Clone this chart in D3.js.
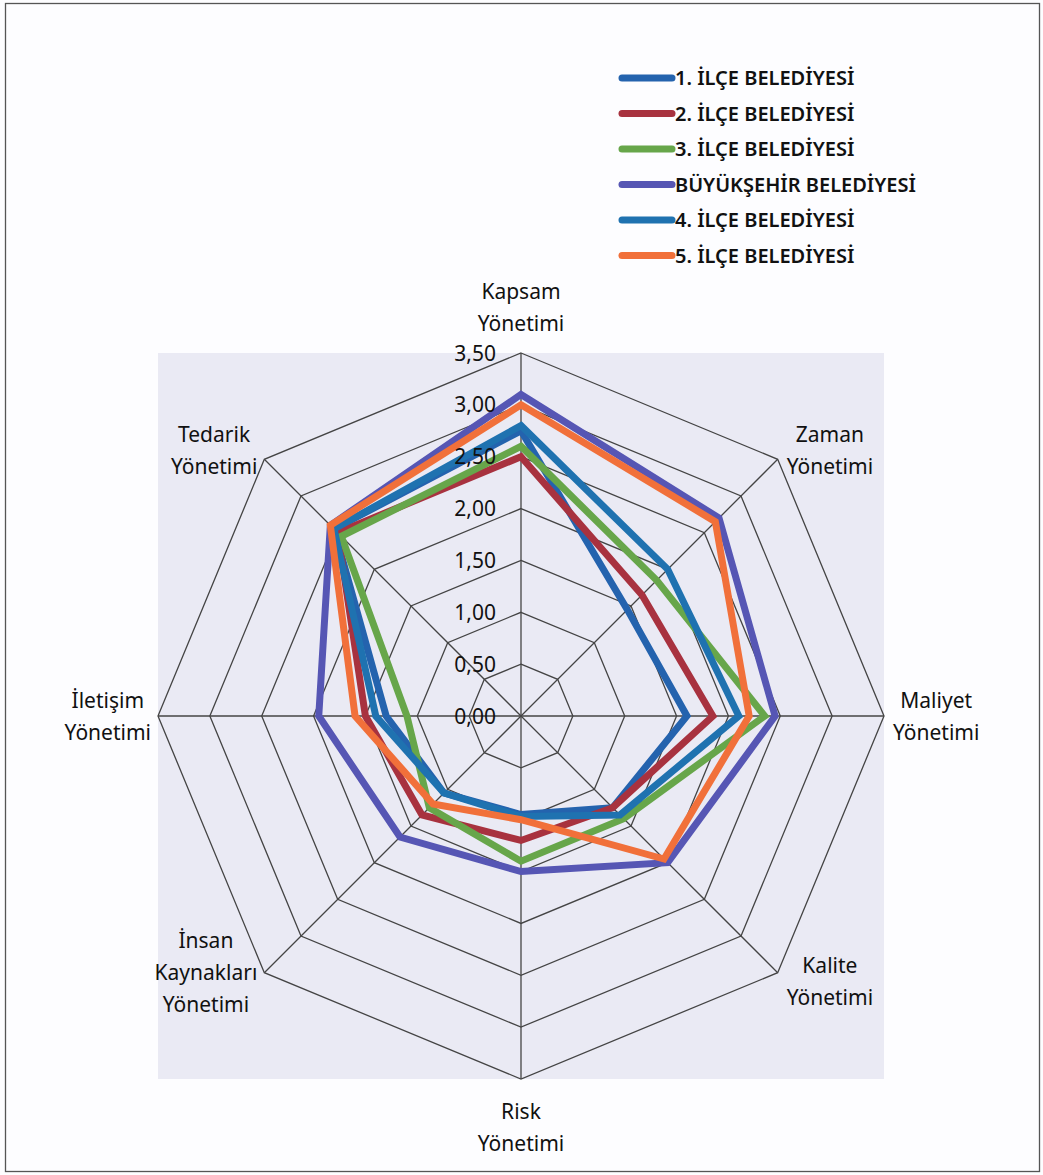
<!DOCTYPE html>
<html>
<head>
<meta charset="utf-8">
<script src="https://cdn.jsdelivr.net/npm/d3@7"></script>
<style>
  body { margin: 0; background: #fdfdff; }
  svg { display: block; font-family: "Noto Sans", "Open Sans", sans-serif; }
</style>
</head>
<body>
<svg id="chart"></svg>
<script>
// axes of the radar, clockwise from the top
const axes = [
  ["Kapsam", "Yönetimi"],
  ["Zaman", "Yönetimi"],
  ["Maliyet", "Yönetimi"],
  ["Kalite", "Yönetimi"],
  ["Risk", "Yönetimi"],
  ["İnsan", "Kaynakları", "Yönetimi"],
  ["İletişim", "Yönetimi"],
  ["Tedarik", "Yönetimi"]
];

const seriesNames = [
  "1. İLÇE BELEDİYESİ",
  "2. İLÇE BELEDİYESİ",
  "3. İLÇE BELEDİYESİ",
  "BÜYÜKŞEHİR BELEDİYESİ",
  "4. İLÇE BELEDİYESİ",
  "5. İLÇE BELEDİYESİ"
];

const ilce1 = [2.75, 1.45, 1.60, 1.25, 0.95, 1.05, 1.30, 2.55];
const ilce2 = [2.50, 1.65, 1.85, 1.25, 1.20, 1.35, 1.50, 2.50];
const ilce3 = [2.60, 1.85, 2.35, 1.40, 1.40, 1.25, 1.10, 2.45];
const buyuksehir = [3.10, 2.70, 2.45, 2.00, 1.50, 1.65, 1.95, 2.60];
const ilce4 = [2.80, 2.00, 2.10, 1.35, 0.97, 1.05, 1.40, 2.55];
const ilce5 = [3.00, 2.65, 2.20, 1.95, 1.00, 1.20, 1.60, 2.60];

const tickValues = [0, 0.5, 1, 1.5, 2, 2.5, 3, 3.5];

const seriesValues = [ilce1, ilce2, ilce3, buyuksehir, ilce4, ilce5];
const colors = ["#2463ae", "#a8323f", "#67a64a", "#5656b4", "#1f72b0", "#f1703a"];

const W = 1043, H = 1175;
const cx = 521, cy = 716, R = 363;

const svg = d3.select("#chart").attr("width", W).attr("height", H);

// outer frame
svg.append("rect")
  .attr("x", 5.5).attr("y", 3.5)
  .attr("width", 1034).attr("height", 1168)
  .attr("fill", "#fdfdff")
  .attr("stroke", "#555").attr("stroke-width", 1.3);

const r = d3.scaleLinear().domain([0, 3.5]).range([0, R]);
const angle = d3.scaleLinear().domain([0, axes.length]).range([0, 2 * Math.PI]);

const pt = (i, v) => [cx + r(v) * Math.sin(angle(i)), cy - r(v) * Math.cos(angle(i))];

// plot area
svg.append("rect")
  .attr("x", cx - R).attr("y", cy - R)
  .attr("width", 2 * R).attr("height", 2 * R)
  .attr("fill", "#eaeaf4");

const g = svg.append("g").attr("transform", `translate(${cx},${cy})`);

// rings
const ring = d3.lineRadial()
  .angle((d, i) => angle(i))
  .radius(d => r(d))
  .curve(d3.curveLinearClosed);

g.selectAll(".ring")
  .data(tickValues.slice(1))
  .join("path")
  .attr("class", "ring")
  .attr("d", t => ring(axes.map(() => t)))
  .attr("fill", "none")
  .attr("stroke", "#444")
  .attr("stroke-width", 1.3);

// spokes
g.selectAll(".spoke")
  .data(axes)
  .join("line")
  .attr("class", "spoke")
  .attr("x1", 0).attr("y1", 0)
  .attr("x2", (d, i) => r(3.5) * Math.sin(angle(i)))
  .attr("y2", (d, i) => -r(3.5) * Math.cos(angle(i)))
  .attr("stroke", "#444")
  .attr("stroke-width", 1.3);

// series
const line = d3.lineRadial()
  .angle((d, i) => angle(i))
  .radius(d => r(d))
  .curve(d3.curveLinearClosed);

g.selectAll(".series")
  .data(seriesValues)
  .join("path")
  .attr("class", "series")
  .attr("d", d => line(d))
  .attr("fill", "none")
  .attr("stroke", (d, i) => colors[i])
  .attr("stroke-width", 7)
  .attr("stroke-linejoin", "miter");

// tick labels
g.selectAll(".tick")
  .data(tickValues)
  .join("text")
  .attr("class", "tick")
  .attr("x", -25)
  .attr("y", d => -r(d))
  .attr("dy", "0.36em")
  .attr("text-anchor", "end")
  .attr("font-size", 21)
  .attr("fill", "#111")
  .text(d => d3.format(".2f")(d).replace(".", ","));

// axis labels
const lh = 32;
axes.forEach((lines, i) => {
  const [px, py] = pt(i, 3.5);
  const s = Math.sin(angle(i)), c = Math.cos(angle(i));
  const t = svg.append("text")
    .attr("font-size", 21)
    .attr("fill", "#111")
    .attr("text-anchor", "middle");
  let x, yc;
  if (Math.abs(s) < 0.01) {
    x = px;
    yc = c > 0 ? py - 20 - (lines.length * lh) / 2 + 6 : py + 22 + (lines.length * lh) / 2 - 6;
  } else {
    yc = py - 12 * c;
    if (Math.abs(c) < 0.01) yc = py;
    if (lines.length === 3) yc = py;
  }
  lines.forEach((l, k) => {
    t.append("tspan").text(l)
      .attr("y", yc + (k - (lines.length - 1) / 2) * lh)
      .attr("dy", "0.36em");
  });
  if (Math.abs(s) >= 0.01) {
    const wMax = d3.max(t.selectAll("tspan").nodes(), n => n.getComputedTextLength());
    x = s > 0 ? px + 9 + wMax / 2 : px - 7 - wMax / 2;
  }
  t.selectAll("tspan").attr("x", x);
});

// legend
const legend = svg.append("g").attr("transform", "translate(622,78)");
const rows = legend.selectAll("g")
  .data(seriesNames)
  .join("g")
  .attr("transform", (d, i) => `translate(0,${i * 35.5})`);

rows.append("line")
  .attr("x1", 0).attr("x2", 50)
  .attr("y1", 0).attr("y2", 0)
  .attr("stroke", (d, i) => colors[i])
  .attr("stroke-width", 7)
  .attr("stroke-linecap", "round");

rows.append("text")
  .attr("x", 53)
  .attr("dy", "0.36em")
  .attr("font-size", 20)
  .attr("font-weight", 600)
  .attr("fill", "#111")
  .text(d => d);
</script>
</body>
</html>
